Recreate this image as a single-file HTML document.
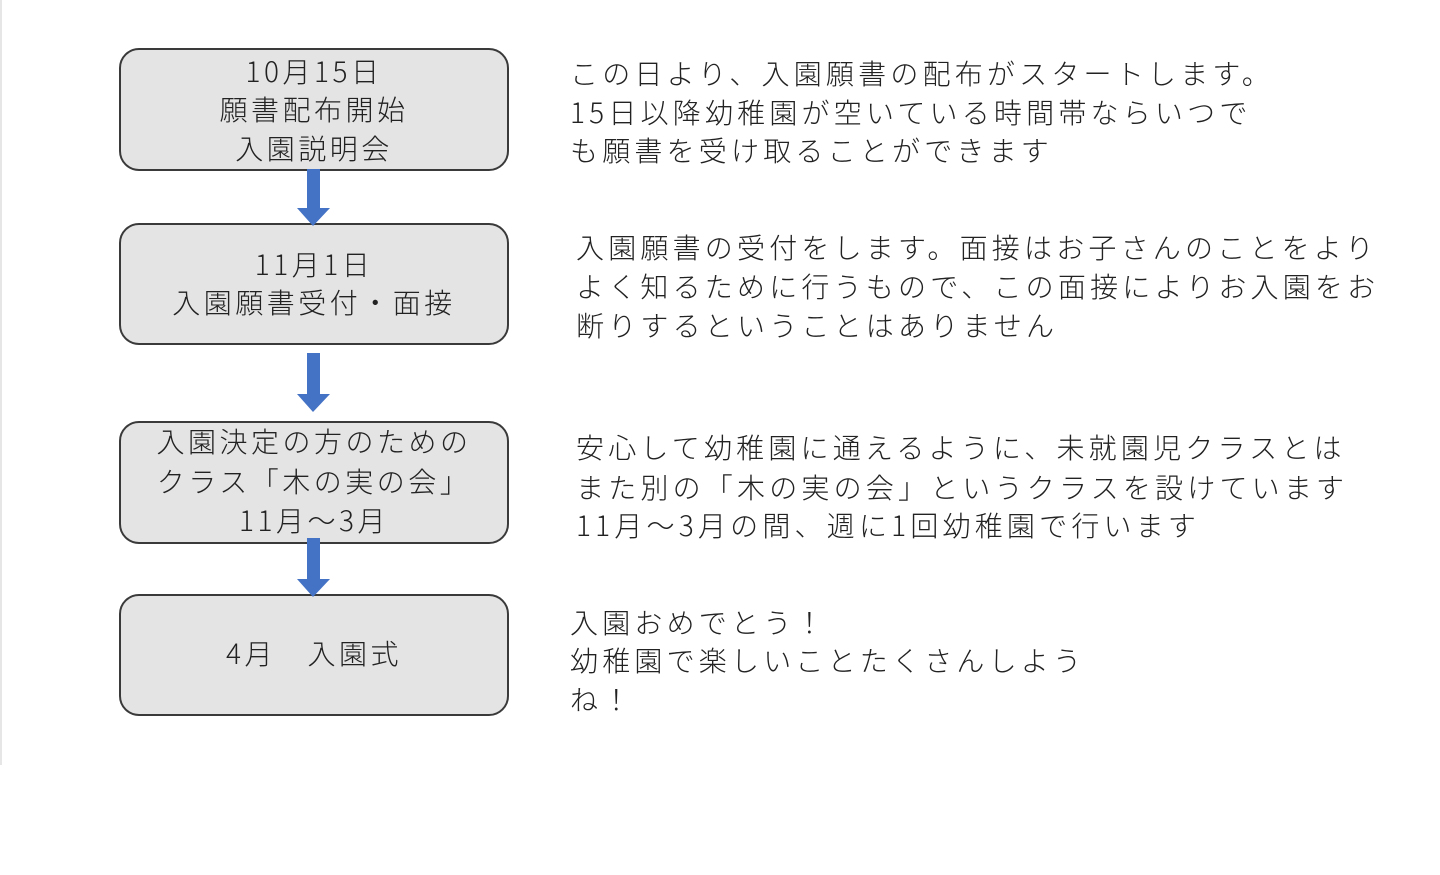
<!DOCTYPE html>
<html><head><meta charset="utf-8"><style>
body{margin:0;width:1440px;height:875px;background:#fff;position:relative;overflow:hidden;font-family:"Noto Sans CJK JP","Liberation Sans",sans-serif;color:#222;}
.edge{position:absolute;left:0;top:0;width:2px;height:765px;background:#e6e6e6}
.box{position:absolute;left:119px;width:386px;background:#e4e4e4;border:2px solid #3a3a3a;border-radius:20px}
.t{position:absolute;font-size:28px;letter-spacing:4.2px;white-space:nowrap;line-height:38px;font-weight:300}
.c{left:119px;width:390px;text-align:center;letter-spacing:3.5px}
</style></head><body>
<div class="edge"></div>
<div class="box" style="top:48px;height:119px"></div>
<div class="box" style="top:223px;height:118px"></div>
<div class="box" style="top:421px;height:119px"></div>
<div class="box" style="top:594px;height:118px"></div>
<svg width="1440" height="875" style="position:absolute;left:0;top:0">
<g fill="#4472c4">
<rect x="307" y="169" width="13" height="40"/><polygon points="297,208 330,208 313,226"/>
<rect x="307" y="353" width="13" height="42"/><polygon points="297,394 330,394 313,412"/>
<rect x="307" y="538" width="13" height="42"/><polygon points="297,579 330,579 313,597"/>
</g></svg>
<div class="t c" style="top:52px">10月15日</div>
<div class="t c" style="top:90px">願書配布開始</div>
<div class="t c" style="top:129px">入園説明会</div>
<div class="t c" style="top:245px">11月1日</div>
<div class="t c" style="top:283px">入園願書受付・面接</div>
<div class="t c" style="top:422px">入園決定の方のための</div>
<div class="t c" style="top:462px">クラス「木の実の会」</div>
<div class="t c" style="top:501px">11月～3月</div>
<div class="t c" style="top:634px">4月　入園式</div>
<div class="t" style="left:570px;top:54px">この日より、入園願書の配布がスタートします。</div>
<div class="t" style="left:570px;top:93px">15日以降幼稚園が空いている時間帯ならいつで</div>
<div class="t" style="left:570px;top:131px">も願書を受け取ることができます</div>
<div class="t" style="left:576px;top:228px">入園願書の受付をします。面接はお子さんのことをより</div>
<div class="t" style="left:576px;top:267px">よく知るために行うもので、この面接によりお入園をお</div>
<div class="t" style="left:576px;top:306px">断りするということはありません</div>
<div class="t" style="left:576px;top:428px">安心して幼稚園に通えるように、未就園児クラスとは</div>
<div class="t" style="left:576px;top:468px">また別の「木の実の会」というクラスを設けています</div>
<div class="t" style="left:576px;top:506px">11月～3月の間、週に1回幼稚園で行います</div>
<div class="t" style="left:570px;top:603px">入園おめでとう！</div>
<div class="t" style="left:570px;top:641px">幼稚園で楽しいことたくさんしよう</div>
<div class="t" style="left:570px;top:680px">ね！</div>
</body></html>
